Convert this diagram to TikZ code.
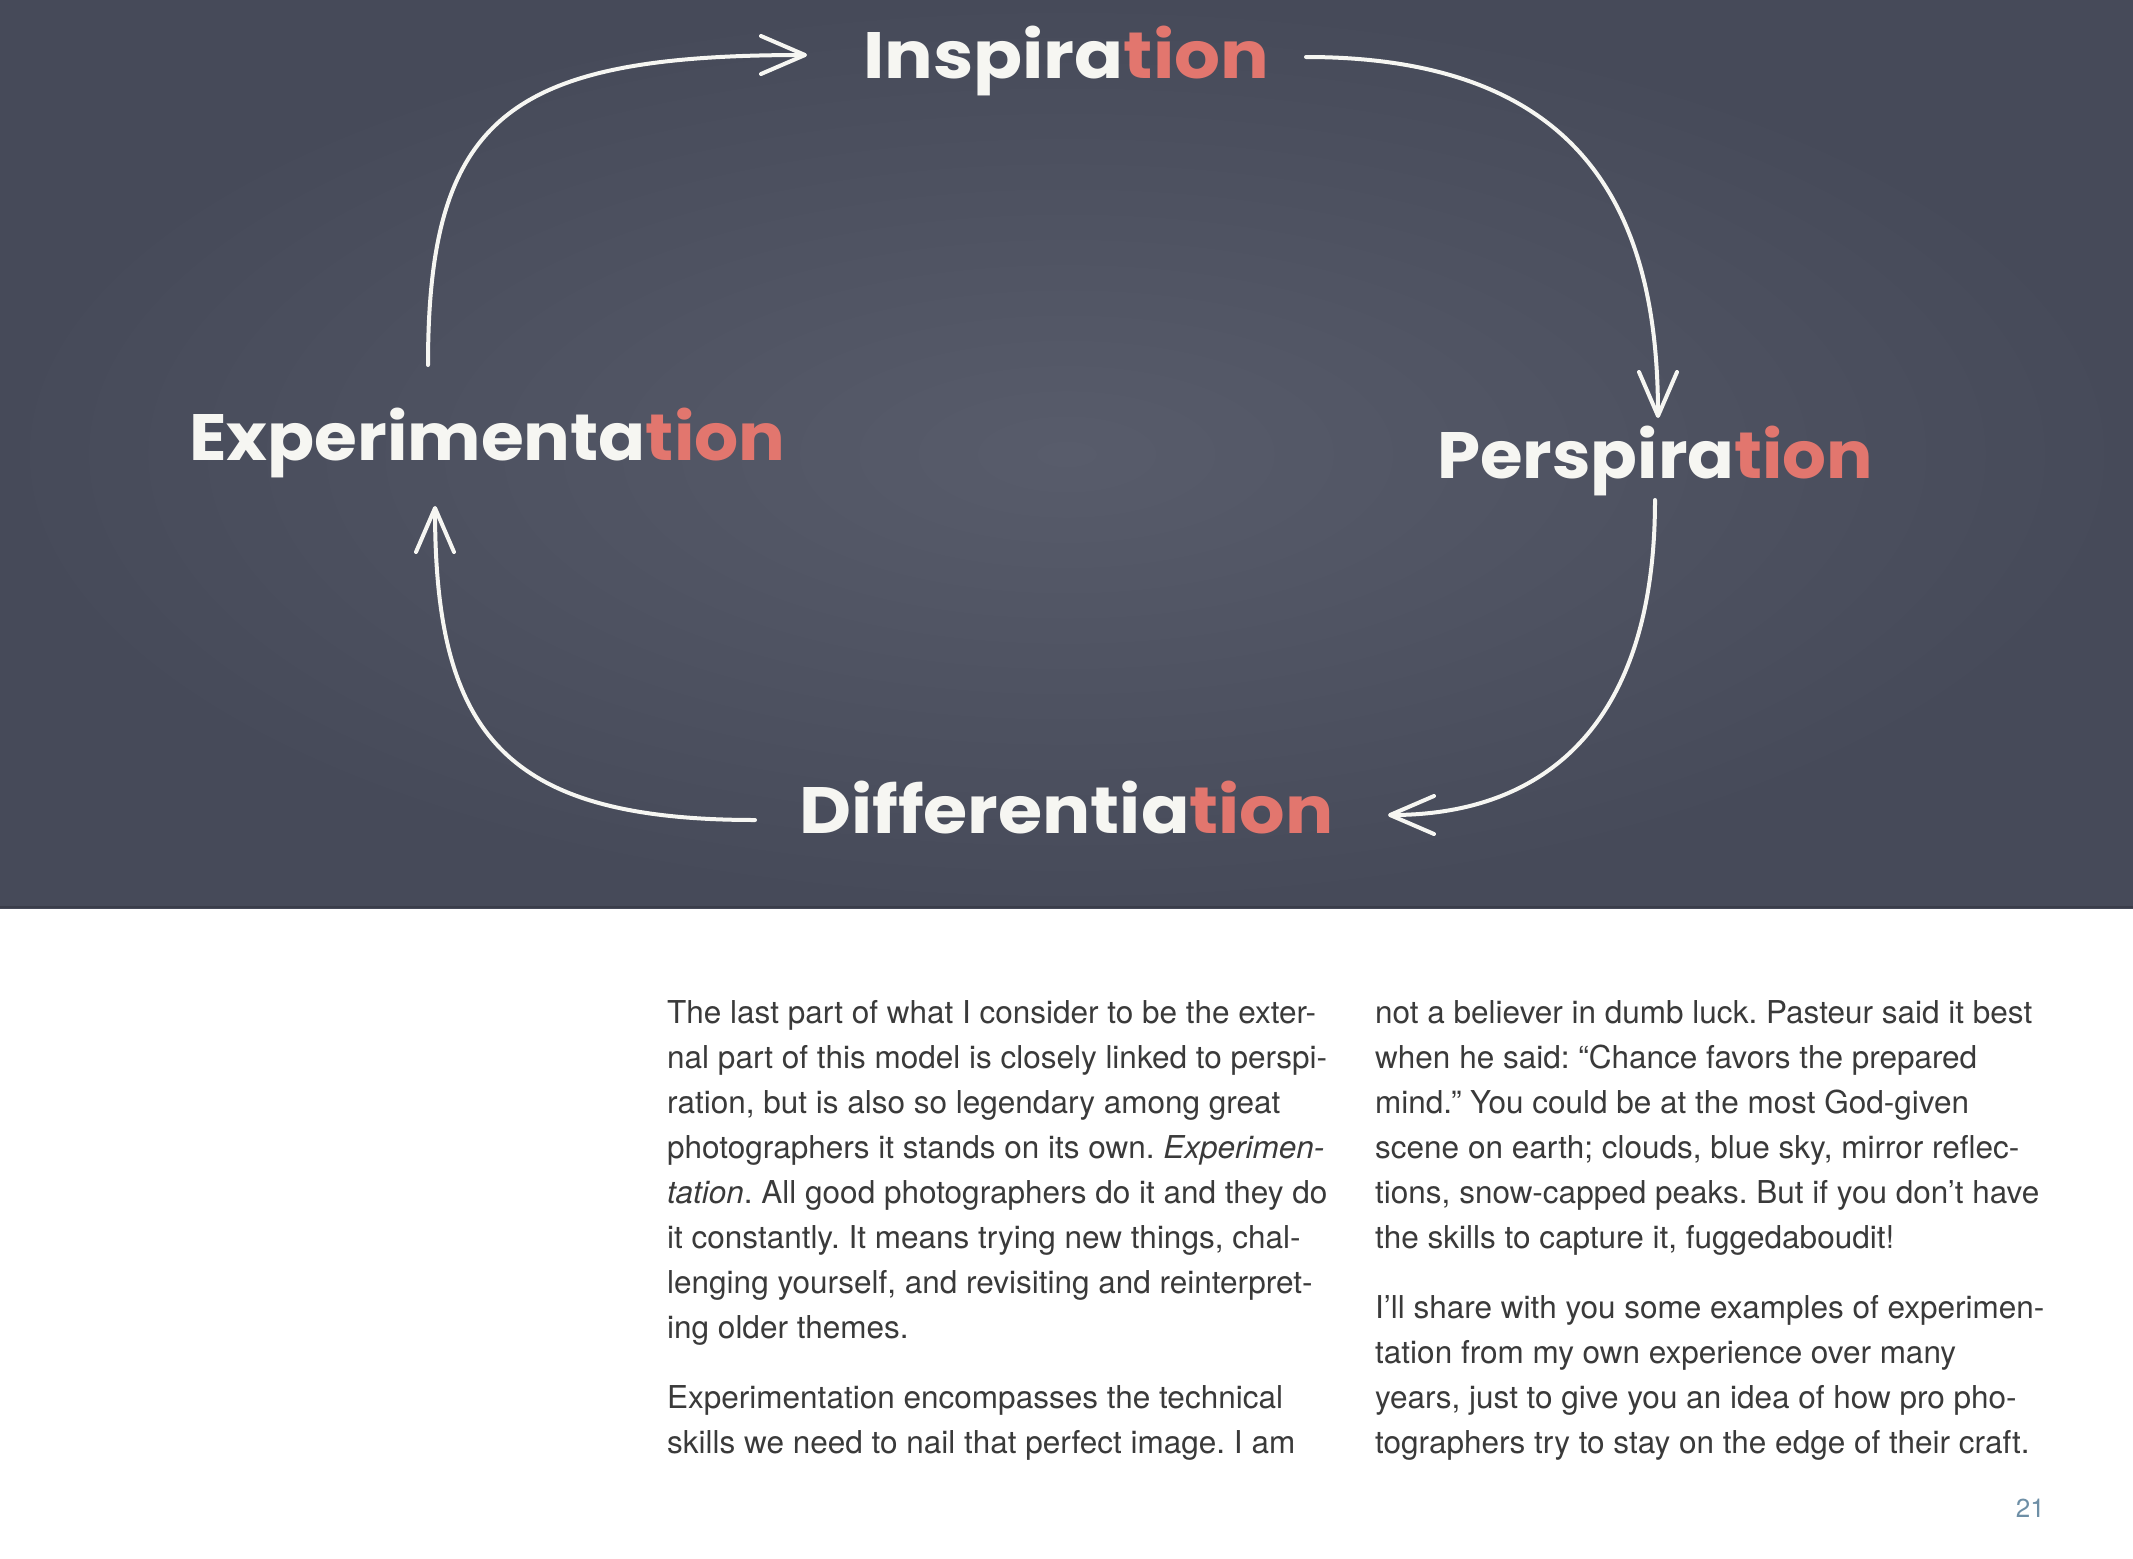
\documentclass[tikz,border=0pt]{standalone}
\usepackage{fontspec}
\usepackage{graphicx}
\setmainfont{TeX Gyre Heros}
\newfontfamily\chalkfont{Poppins}
\usetikzlibrary{arrows.meta}

\definecolor{boardbase}{HTML}{4E5263}
\definecolor{boardlight}{HTML}{585C6B}
\definecolor{boarddark}{HTML}{464A59}
\definecolor{boardedge}{HTML}{3A3D4A}
\definecolor{chalkwhite}{HTML}{F6F6F2}
\definecolor{chalkred}{HTML}{E2766E}
\definecolor{bodytext}{HTML}{3A3A3A}
\definecolor{folio}{HTML}{6E8FA6}

% a chalk word: white stem, red "tion" ending, scaled to a fixed width and cap height
\newcommand{\chalkword}[3]{%
  \resizebox{#1}{46pt}{\chalkfont\bfseries
    \smash{\textcolor{chalkwhite}{#2}\textcolor{chalkred}{#3}}\vphantom{I}}}

\tikzset{
  word/.style={anchor=base west, inner sep=0pt},
  chalkarrow/.style={draw=chalkwhite, line width=4pt, line cap=round,
    -{Straight Barb[length=44pt, width=38pt, round]}},
  body/.style={anchor=base west, inner sep=0pt, text=bodytext,
    font=\fontsize{31.5pt}{45pt}\selectfont\frenchspacing},
}

\begin{document}
\begin{tikzpicture}[x=1pt, y=-1pt]
  \useasboundingbox (0,0) rectangle (2133,1558);
  \fill[white] (0,0) rectangle (2133,1558);

  % chalkboard
  \fill[boardbase] (0,0) rectangle (2133,908);
  \shade[inner color=boardlight, outer color=boarddark] (0,0) rectangle (2133,908);
  \draw[boardedge, line width=2pt] (0,907) -- (2133,907);

  % the four stages
  \node[word] (insp) at (863,78)  {\chalkword{406pt}{Inspira}{tion}};
  \node[word] (persp) at (1437,478) {\chalkword{436pt}{Perspira}{tion}};
  \node[word] (diff) at (799,833) {\chalkword{534pt}{Differentia}{tion}};
  \node[word] (expe) at (189,460) {\chalkword{596pt}{Experimenta}{tion}};

  % connector end points
  \coordinate (a1s) at (428,365);  \coordinate (a1e) at (807,55);
  \coordinate (a2s) at (1306,57);  \coordinate (a2e) at (1658,418);
  \coordinate (a3s) at (1655,500); \coordinate (a3e) at (1388,815);
  \coordinate (a4s) at (755,820);  \coordinate (a4e) at (435,506);

  % the cycle
  \draw[chalkarrow] (a1s) .. controls (428,115) and (510,55) .. (a1e);
  \draw[chalkarrow] (a2s) .. controls (1590,57) and (1658,220) .. (a2e);
  \draw[chalkarrow] (a3s) .. controls (1655,730) and (1540,815) .. (a3e);
  \draw[chalkarrow] (a4s) .. controls (505,820) and (435,735) .. (a4e);

  % left column
  \node[body] (l1) at (667,1023) {The last part of what I consider to be the exter-};
  \node[body] (l2) at (667,1068) {nal part of this model is closely linked to perspi-};
  \node[body] (l3) at (667,1113) {ration, but is also so legendary among great};
  \node[body] (l4) at (667,1158) {photographers it stands on its own. \textit{Experimen-}};
  \node[body] (l5) at (667,1203) {\textit{tation}. All good photographers do it and they do};
  \node[body] (l6) at (667,1248) {it constantly. It means trying new things, chal-};
  \node[body] (l7) at (667,1293) {lenging yourself, and revisiting and reinterpret-};
  \node[body] (l8) at (667,1338) {ing older themes.};
  \node[body] (l9) at (667,1408) {Experimentation encompasses the technical};
  \node[body] (l10) at (667,1453) {skills we need to nail that perfect image. I am};

  % right column
  \node[body] (r1) at (1375,1023) {not a believer in dumb luck. Pasteur said it best};
  \node[body] (r2) at (1375,1068) {when he said: “Chance favors the prepared};
  \node[body] (r3) at (1375,1113) {mind.” You could be at the most God-given};
  \node[body] (r4) at (1375,1158) {scene on earth; clouds, blue sky, mirror reflec-};
  \node[body] (r5) at (1375,1203) {tions, snow-capped peaks. But if you don’t have};
  \node[body] (r6) at (1375,1248) {the skills to capture it, fuggedaboudit!};
  \node[body] (r7) at (1375,1318) {I’ll share with you some examples of experimen-};
  \node[body] (r8) at (1375,1363) {tation from my own experience over many};
  \node[body] (r9) at (1375,1408) {years, just to give you an idea of how pro pho-};
  \node[body] (r10) at (1375,1453) {tographers try to stay on the edge of their craft.};

  % page number
  \node[anchor=base east, inner sep=0pt, text=folio,
    font=\fontsize{26pt}{30pt}\selectfont] (folio) at (2045,1517) {21};
\end{tikzpicture}
\end{document}
